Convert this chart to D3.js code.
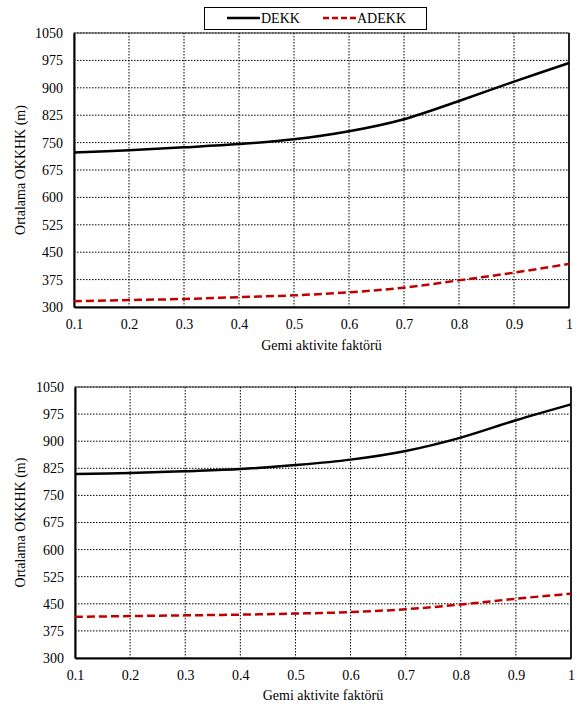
<!DOCTYPE html>
<html><head><meta charset="utf-8">
<script src="https://cdn.jsdelivr.net/npm/d3@7"></script>
<style>body{margin:0;background:#fff}svg{display:block}</style>
</head><body><svg id="c" width="579" height="706"></svg>
<script>
const xValues = [0.1,0.2,0.3,0.4,0.5,0.6,0.7,0.8,0.9,1.0];
const xTicks = [0.1,0.2,0.3,0.4,0.5,0.6,0.7,0.8,0.9,1];
const yTicks = [300,375,450,525,600,675,750,825,900,975,1050];
const seriesNames = ["DEKK","ADEKK"];
const topDEKK   = [723,729,737,746,759,781,814,864,917,968];
const topADEKK  = [316,319,322,327,332,340,353,373,394,418];
const botDEKK   = [809,812,817,823,834,849,873,910,958,1002];
const botADEKK  = [414,416,418,420,423,427,435,448,464,478];
const xTitle = "Gemi aktivite faktörü";
const yTitle = "Ortalama OKKHK (m)";

const svg = d3.select("#c").attr("font-family","Liberation Serif");
const FS = 14;
const FF = "Liberation Serif";

function panel(box, dekk, adekk){
  const x = d3.scaleLinear().domain([0.1,1]).range([box.l, box.r]);
  const y = d3.scaleLinear().domain([300,1050]).range([box.b, box.t]);
  const g = svg.append("g");
  g.selectAll(".gx").data(xTicks.slice(1,-1)).join("line")
    .attr("x1",d=>x(d)).attr("x2",d=>x(d)).attr("y1",box.t).attr("y2",box.b)
    .attr("stroke","#000").attr("stroke-width",1).attr("stroke-dasharray","1.5,1.5");
  g.selectAll(".gy").data(yTicks.slice(1)).join("line")
    .attr("x1",box.l).attr("x2",box.r).attr("y1",d=>y(d)).attr("y2",d=>y(d))
    .attr("stroke","#000").attr("stroke-width",1).attr("stroke-dasharray","1.5,1.5");
  g.append("rect").attr("x",box.l).attr("y",box.t).attr("width",box.r-box.l).attr("height",box.b-box.t)
    .attr("fill","none").attr("stroke","#333").attr("stroke-width",1);
  g.append("line").attr("x1",box.r).attr("x2",box.r).attr("y1",box.t).attr("y2",box.b).attr("stroke","#222").attr("stroke-width",2);
  const ax = d3.axisBottom(x).tickValues(xTicks).tickSize(0).tickPadding(12).tickFormat(d=>d===1?"1":d3.format(".1f")(d));
  const ay = d3.axisLeft(y).tickValues(yTicks).tickSize(0).tickPadding(11).tickFormat(d3.format("d"));
  const gx = g.append("g").attr("transform",`translate(0,${box.b})`).call(ax);
  const gy = g.append("g").attr("transform",`translate(${box.l},0)`).call(ay);
  [gx,gy].forEach(a=>{a.attr("font-family",FF).attr("font-size",FS);
    a.select(".domain").attr("stroke","#000").attr("stroke-width",2);
    a.selectAll("text").attr("font-family",FF).attr("font-size",FS).attr("fill","#000");});
  gx.selectAll("text").attr("dy","0.71em");
  const line = d3.line().x((d,i)=>x(xValues[i])).y(d=>y(d)).curve(d3.curveCatmullRom.alpha(0.5));
  g.append("path").attr("d",line(adekk)).attr("fill","none").attr("stroke","#C00000").attr("stroke-width",2.5).attr("stroke-dasharray","8,4");
  g.append("path").attr("d",line(dekk)).attr("fill","none").attr("stroke","#000").attr("stroke-width",2.5);
  g.append("text").attr("x",(box.l+box.r)/2).attr("y",box.b+box.tt).attr("text-anchor","middle").attr("font-family",FF).attr("font-size",FS).text(xTitle);
  g.append("text").attr("transform",`translate(${box.ly},${(box.t+box.b)/2}) rotate(-90)`).attr("text-anchor","middle").attr("font-family",FF).attr("font-size",FS).text(yTitle);
}

panel({l:74,r:569,t:33,b:307,ly:25,tt:43}, topDEKK, topADEKK);
panel({l:75,r:571,t:387,b:658,ly:25,tt:42}, botDEKK, botADEKK);

const lg = svg.append("g");
lg.append("rect").attr("x",204.5).attr("y",7.5).attr("width",222).attr("height",22).attr("fill","#fff").attr("stroke","#000").attr("stroke-width",1);
lg.append("line").attr("x1",227).attr("x2",260).attr("y1",18).attr("y2",18).attr("stroke","#000").attr("stroke-width",2.5);
lg.append("text").attr("x",261).attr("y",23).attr("font-family",FF).attr("font-size",FS).text(seriesNames[0]);
lg.append("line").attr("x1",323).attr("x2",357).attr("y1",18).attr("y2",18).attr("stroke","#C00000").attr("stroke-width",2.5).attr("stroke-dasharray","6,3");
lg.append("text").attr("x",357).attr("y",23).attr("font-family",FF).attr("font-size",FS).text(seriesNames[1]);
</script></body></html>
